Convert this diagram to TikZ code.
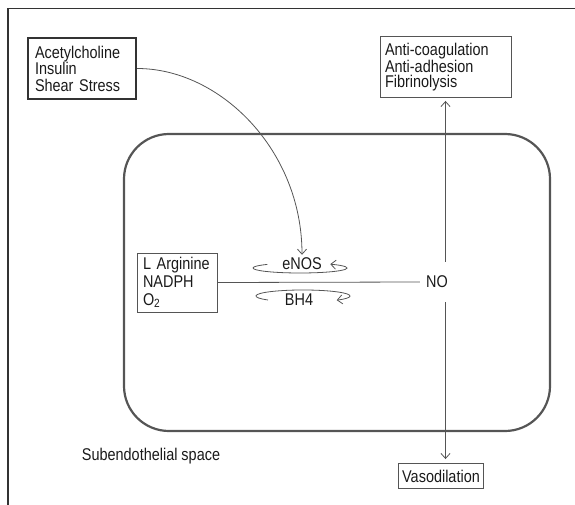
\documentclass[tikz,border=0pt]{standalone}
\usepackage{fontspec}
\setmainfont[FakeStretch=0.85]{Liberation Sans}
\usetikzlibrary{arrows.meta}
\definecolor{ink}{HTML}{1A1A1A}
\definecolor{linec}{HTML}{555555}
\definecolor{framec}{HTML}{333333}
\begin{document}
\begin{tikzpicture}[x=1pt,y=-1pt,
  lbl/.style={font=\fontsize{17}{16.5}\selectfont, text=ink},
  box/.style={lbl, draw=linec, line width=0.9pt, align=left, inner ysep=2pt},
  arr/.style={draw=linec, line width=0.8pt, -{Straight Barb[length=5pt,width=9pt]}}]
\useasboundingbox (0,0) rectangle (575,505);
% frame
\draw[framec, line width=1.5pt] (8,505) -- (8,8.5) -- (575,8.5);
% cell
\draw[linec, line width=2.2pt, rounded corners=45pt] (124,134) rectangle (550,431);
% nodes
\node[box, draw=framec, line width=2.4pt, minimum width=108pt, minimum height=61pt,
      text width=94pt, inner xsep=7pt] (acet) at (82,68.5)
      {Acetylcholine\\Insulin\\Shear Stress};
\node[box, minimum width=131pt, minimum height=61pt, text width=121pt, inner xsep=5pt,
      font=\fontsize{17}{15.5}\selectfont] (anti) at (445.5,67)
      {Anti-coagulation\\Anti-adhesion\\Fibrinolysis};
\node[box, minimum width=80pt, minimum height=59pt, text width=68pt, inner xsep=6pt,
      font=\fontsize{17}{18}\selectfont] (arg) at (177,282.5)
      {\mbox{L Arginine}\\NADPH\\O\textsubscript{2}};
\node[lbl, minimum height=40pt, inner xsep=6pt] (NO) at (437,282) {NO};
\node[lbl, inner sep=2pt] (enos) at (302,264) {eNOS};
\node[lbl, inner sep=2pt] (bh4) at (299,300) {BH4};
\node[lbl] (sub) at (151,456) {Subendothelial space};
\node[box, inner xsep=4pt, minimum height=25pt] (vaso) at (441,476) {Vasodilation};
% connectors
\draw[arr] (acet.east) .. controls (220,68.5) and (302,150) .. ([yshift=1pt]enos.north);
\draw[linec, line width=0.8pt] (arg.east) -- (NO.west);
\draw[arr, shorten >=3pt] (NO.north -| anti.south) -- (anti.south);
\draw[arr, shorten >=4pt] (NO.south -| anti.south) -- (vaso.north -| anti.south);
% loops
\draw[arr] ([shift={(-34.6,0.4)}]enos.center) arc[start angle=226, end angle=-50, x radius=47, y radius=5];
\draw[arr] ([shift={(-31,0)}]bh4.center) arc[start angle=138, end angle=404, x radius=47, y radius=6];
\end{tikzpicture}
\end{document}
